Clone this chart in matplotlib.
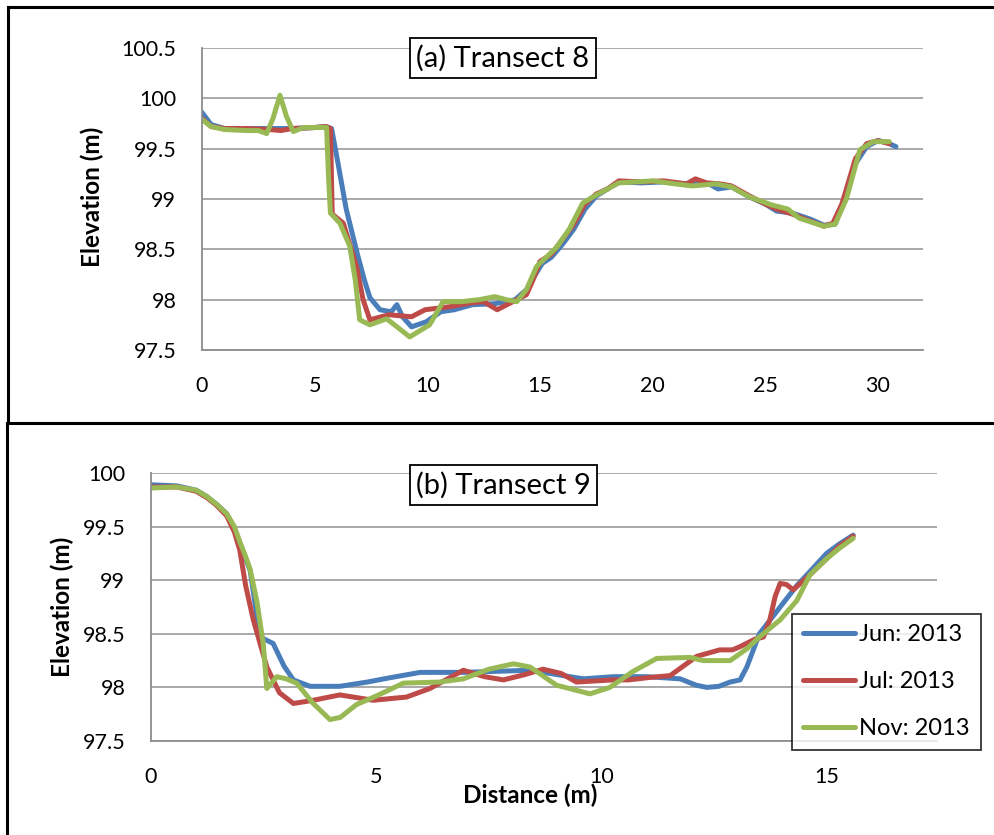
import matplotlib
matplotlib.use("Agg")
import matplotlib.pyplot as plt
from matplotlib.lines import Line2D

plt.rcParams['font.family'] = ['Lato', 'DejaVu Sans']

# series labels and colours
labels = ["Jun: 2013", "Jul: 2013", "Nov: 2013"]
colors = ["#4A7EBB", "#BE4B48", "#98B954"]

# (a) Transect 8 - distance (m) / elevation (m)
t8_jun_x = [0, 0.4, 1, 2, 3, 4, 5, 5.5, 5.75, 6.0, 6.4, 6.9, 7.2, 7.45, 7.9, 8.4, 8.65, 8.9, 9.3,
            9.95, 10.6, 11.2, 12, 13, 13.9, 14.4, 14.8, 15.1, 15.5, 16.0, 16.5, 17.0, 17.5, 18.0,
            18.5, 19.5, 20.5, 21.5, 22.5, 22.9, 23.5, 24.3, 25.0, 25.5, 26.2, 27.0, 27.6, 28.1,
            28.5, 29.0, 29.5, 30.0, 30.4, 30.8]
t8_jun_e = [99.86, 99.74, 99.70, 99.70, 99.70, 99.70, 99.71, 99.72, 99.70, 99.40, 98.90, 98.45,
            98.20, 98.02, 97.90, 97.88, 97.95, 97.83, 97.73, 97.78, 97.88, 97.90, 97.95, 97.96,
            98.00, 98.10, 98.25, 98.36, 98.42, 98.55, 98.70, 98.90, 99.03, 99.10, 99.17, 99.16,
            99.17, 99.15, 99.15, 99.10, 99.12, 99.02, 98.95, 98.88, 98.86, 98.80, 98.74, 98.75,
            99.00, 99.35, 99.52, 99.58, 99.56, 99.52]

t8_jul_x = [0, 0.4, 1, 2, 3, 3.5, 4, 5, 5.5, 5.7, 5.78, 6.27, 6.86, 7.15, 7.45, 8.3, 9.3, 9.9,
            11.0, 12.0, 12.5, 13.1, 13.8, 14.4, 14.7, 15.0, 15.5, 16.0, 16.5, 17.0, 17.5, 18.0,
            18.5, 19.5, 20.5, 21.5, 21.9, 22.4, 23.0, 23.5, 24.3, 25.0, 25.5, 26.2, 27.0, 27.6,
            28.0, 28.4, 29.0, 29.5, 30.0, 30.5]
t8_jul_e = [99.80, 99.72, 99.70, 99.70, 99.69, 99.68, 99.70, 99.71, 99.72, 99.70, 98.85, 98.76,
            98.33, 98.00, 97.80, 97.85, 97.83, 97.90, 97.93, 97.97, 97.98, 97.90, 97.98, 98.05,
            98.20, 98.38, 98.45, 98.60, 98.75, 98.95, 99.05, 99.10, 99.18, 99.17, 99.18, 99.15,
            99.20, 99.16, 99.15, 99.13, 99.03, 98.95, 98.90, 98.85, 98.78, 98.73, 98.76, 98.95,
            99.40, 99.55, 99.58, 99.55]

t8_nov_x = [0, 0.4, 1, 2, 2.5, 2.87, 3.15, 3.46, 3.75, 4.05, 4.5, 5.0, 5.53, 5.62, 5.7, 6.12,
            6.56, 6.8, 7.0, 7.45, 8.19, 8.6, 9.22, 10.1, 10.7, 11.5, 12.3, 13.0, 13.5, 13.97, 14.4,
            14.85, 15.74, 16.3, 16.9, 17.5, 18.5, 20.0, 21.0, 21.75, 22.8, 23.5, 24.3, 25.3,
            26.0, 26.5, 27.6, 28.1, 28.6, 29.2, 29.8, 30.5]
t8_nov_e = [99.79, 99.72, 99.69, 99.68, 99.68, 99.65, 99.80, 100.03, 99.82, 99.67, 99.71, 99.71,
            99.71, 99.20, 98.86, 98.76, 98.53, 98.20, 97.80, 97.75, 97.81, 97.74, 97.63, 97.75,
            97.98, 97.98, 98.00, 98.03, 98.00, 97.98, 98.10, 98.33, 98.52, 98.70, 98.96, 99.04,
            99.16, 99.18, 99.15, 99.13, 99.15, 99.12, 99.02, 98.94, 98.90, 98.81, 98.73, 98.75,
            99.00, 99.49, 99.57, 99.57]

# (b) Transect 9
t9_jun_x = [0, 0.57, 1.0, 1.24, 1.45, 1.68, 1.85, 1.97, 2.1, 2.2, 2.32, 2.42, 2.71, 2.95, 3.16,
            3.53, 4.19, 4.8, 5.3, 5.97, 6.41, 6.93, 7.67, 8.41, 9.0, 9.59, 10.26, 11.0, 11.74,
            12.1, 12.33, 12.6, 12.85, 13.07, 13.22, 13.5, 13.96, 14.33, 14.62, 14.99, 15.28, 15.58]
t9_jun_e = [99.89, 99.88, 99.84, 99.78, 99.71, 99.62, 99.48, 99.34, 99.20, 99.09, 98.75, 98.47,
            98.41, 98.20, 98.07, 98.01, 98.01, 98.05, 98.09, 98.14, 98.14, 98.14, 98.15, 98.16,
            98.12, 98.08, 98.10, 98.10, 98.08, 98.02, 98.00, 98.01, 98.05, 98.07, 98.19, 98.50,
            98.75, 98.95, 99.08, 99.25, 99.34, 99.42]

t9_jul_x = [0, 0.57, 1.0, 1.24, 1.45, 1.68, 1.85, 1.97, 2.1, 2.27, 2.57, 2.85, 3.16, 3.6, 4.19,
            4.93, 5.67, 6.19, 6.93, 7.4, 7.82, 8.3, 8.7, 9.1, 9.44, 10.26, 10.6, 11.0, 11.52,
            12.11, 12.62, 12.9, 13.07, 13.4, 13.59, 13.73, 13.85, 13.96, 14.1, 14.25, 14.62,
            14.99, 15.28, 15.58]
t9_jul_e = [99.87, 99.87, 99.83, 99.77, 99.70, 99.60, 99.45, 99.28, 98.95, 98.63, 98.19, 97.95,
            97.85, 97.88, 97.93, 97.88, 97.91, 97.99, 98.16, 98.10, 98.07, 98.12, 98.17, 98.13,
            98.05, 98.07, 98.07, 98.09, 98.11, 98.29, 98.35, 98.35, 98.38, 98.45, 98.47, 98.63,
            98.85, 98.97, 98.96, 98.91, 99.05, 99.20, 99.32, 99.41]

t9_nov_x = [0, 0.57, 1.0, 1.24, 1.45, 1.68, 1.85, 1.97, 2.1, 2.2, 2.35, 2.49, 2.57, 2.79, 3.0,
            3.23, 3.6, 3.97, 4.2, 4.56, 5.0, 5.6, 6.41, 6.93, 7.5, 8.04, 8.41, 9.0, 9.74, 10.18,
            10.7, 11.22, 11.96, 12.25, 12.85, 13.22, 13.5, 13.96, 14.33, 14.62, 14.99, 15.28, 15.58]
t9_nov_e = [99.86, 99.87, 99.84, 99.78, 99.71, 99.62, 99.50, 99.36, 99.22, 99.10, 98.80, 98.41,
            97.99, 98.10, 98.08, 98.04, 97.85, 97.70, 97.72, 97.84, 97.92, 98.04, 98.05, 98.08,
            98.17, 98.22, 98.19, 98.02, 97.94, 98.00, 98.15, 98.27, 98.28, 98.25, 98.25, 98.36,
            98.47, 98.63, 98.81, 99.05, 99.20, 99.30, 99.39]

W, H = 994, 835
fig = plt.figure(figsize=(W / 100, H / 100), dpi=100)


def box(l, t, r, b):
    # pixel box -> figure fraction rect
    return [l / W, 1 - b / H, (r - l) / W, (b - t) / H]


def style(ax, xlim, ylim, yticks, xticks):
    ax.set_xlim(*xlim)
    ax.set_ylim(*ylim)
    ax.set_yticks(yticks)
    ax.set_xticks(xticks)
    ax.set_yticklabels([f"{v:g}" for v in yticks])
    for s in ["top", "right"]:
        ax.spines[s].set_visible(False)
    for s in ["left", "bottom"]:
        ax.spines[s].set_color("#8C8C8C")
        ax.spines[s].set_linewidth(1.3)
    ax.yaxis.grid(True, color="#A3A3A3", lw=1.3)
    ax.set_axisbelow(True)
    ax.tick_params(axis="both", length=0, labelsize=15.5, colors="black")
    ax.tick_params(axis="x", pad=18.5)
    ax.tick_params(axis="y", pad=18.5)


lw = 3.6
# top panel
ax1 = fig.add_axes(box(202, 48, 923, 350))
style(ax1, (0, 32), (97.5, 100.5), [97.5, 98, 98.5, 99, 99.5, 100, 100.5], [0, 5, 10, 15, 20, 25, 30])
for xs, es, c in zip([t8_jun_x, t8_jul_x, t8_nov_x], [t8_jun_e, t8_jul_e, t8_nov_e], colors):
    ax1.plot(xs, es, color=c, lw=lw, solid_joinstyle="round", solid_capstyle="round")
ax1.text(0.4175, 0.967, "(a) Transect 8", transform=ax1.transAxes, ha="center", va="center",
         fontsize=21, bbox=dict(boxstyle="square,pad=0.22", fc="white", ec="black", lw=1.3))

# bottom panel
ax2 = fig.add_axes(box(151, 473, 937, 741))
style(ax2, (0, 17.44), (97.5, 100), [97.5, 98, 98.5, 99, 99.5, 100], [0, 5, 10, 15])
lines = []
for xs, es, c, lab in zip([t9_jun_x, t9_jul_x, t9_nov_x], [t9_jun_e, t9_jul_e, t9_nov_e], colors, labels):
    ln, = ax2.plot(xs, es, color=c, lw=lw, solid_joinstyle="round", solid_capstyle="round", label=lab)
    lines.append(ln)
ax2.text(0.4485, 0.955, "(b) Transect 9", transform=ax2.transAxes, ha="center", va="center",
         fontsize=21, bbox=dict(boxstyle="square,pad=0.22", fc="white", ec="black", lw=1.3))

leg = ax2.legend(handles=lines, loc="lower left", bbox_to_anchor=box(792, 609, 981, 750)[:2],
                 bbox_transform=fig.transFigure, fontsize=17, frameon=True, fancybox=False,
                 handlelength=2.2, handletextpad=0.2, labelspacing=1.1, borderpad=0.45,
                 borderaxespad=0)
leg.get_frame().set_edgecolor("black")
leg.get_frame().set_linewidth(1.3)

# axis titles
fig.text(92 / W, 1 - 197 / H, "Elevation (m)", rotation=90, ha="center", va="center",
         fontsize=17.5, fontweight="bold")
fig.text(62 / W, 1 - 607 / H, "Elevation (m)", rotation=90, ha="center", va="center",
         fontsize=17.5, fontweight="bold")
fig.text(530 / W, 1 - 795 / H, "Distance (m)", ha="center", va="center",
         fontsize=17.5, fontweight="bold")

# panel frames
for xs, ys in [([8, W], [7, 7]), ([8, 8], [7, 423]), ([7, W], [423, 423]), ([7, 7], [423, H])]:
    fig.add_artist(Line2D([x / W for x in xs], [1 - y / H for y in ys], color="black", lw=2.2,
                          transform=fig.transFigure))

fig.savefig("out.png", dpi=100)
